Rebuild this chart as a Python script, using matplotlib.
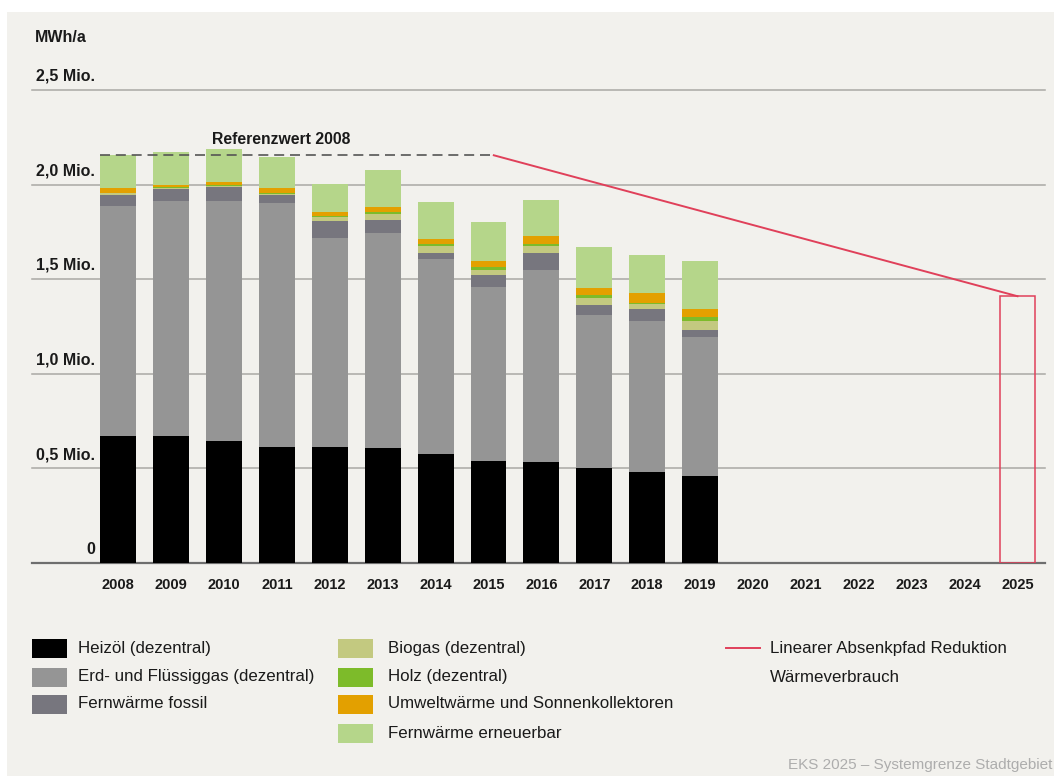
import numpy as np
import matplotlib
matplotlib.use("Agg")
import matplotlib.pyplot as plt
from matplotlib.patches import Rectangle
from matplotlib.lines import Line2D

plt.rcParams['font.family'] = ['Liberation Sans', 'DejaVu Sans']

# data in Mio. MWh/a
years = [str(y) for y in range(2008, 2026)]
heizoel = [0.671, 0.671, 0.646, 0.614, 0.614, 0.606, 0.576, 0.540, 0.534, 0.500, 0.479, 0.460]
gas = [1.214, 1.242, 1.266, 1.289, 1.104, 1.139, 1.031, 0.918, 1.017, 0.810, 0.801, 0.735]
fw_fossil = [0.061, 0.065, 0.075, 0.044, 0.088, 0.066, 0.032, 0.063, 0.090, 0.056, 0.060, 0.036]
biogas = [0.007, 0.005, 0.006, 0.005, 0.024, 0.034, 0.039, 0.030, 0.033, 0.035, 0.028, 0.047]
holz = [0.004, 0.002, 0.003, 0.004, 0.003, 0.010, 0.010, 0.014, 0.014, 0.014, 0.007, 0.023]
umwelt = [0.023, 0.011, 0.018, 0.028, 0.022, 0.027, 0.027, 0.032, 0.039, 0.036, 0.053, 0.044]
fw_erneuerbar = [0.175, 0.176, 0.176, 0.162, 0.150, 0.197, 0.193, 0.206, 0.190, 0.219, 0.202, 0.252]

referenz_2008 = 2.155
ziel_2025 = 1.41
pfad_start = 7.1  # x position where reduction path leaves the reference line

series = [heizoel, gas, fw_fossil, biogas, holz, umwelt, fw_erneuerbar]
names = ["Heizöl (dezentral)", "Erd- und Flüssiggas (dezentral)", "Fernwärme fossil",
         "Biogas (dezentral)", "Holz (dezentral)", "Umweltwärme und Sonnenkollektoren",
         "Fernwärme erneuerbar"]
colors = ["#000000", "#959595", "#77767e", "#c3c980", "#7dbb2a", "#e3a000", "#b5d68a"]
red = "#e0405a"
txt = "#1a1a1a"

W, H = 1054, 776
fig = plt.figure(figsize=(W / 100, H / 100), dpi=100)
fig.patch.set_facecolor("white")
fig.patches.append(Rectangle((7 / W, 0), 1, 1 - 12 / H, transform=fig.transFigure,
                             facecolor="#f2f1ed", edgecolor="none", zorder=-10))

ax = fig.add_axes([32 / W, 1 - 563 / H, (1045 - 32) / W, (563 - 90) / H])
ax.set_facecolor("none")
ax.set_xlim(-1.63, 17.52)
ax.set_ylim(0, 2.5)
for s in ax.spines.values():
    s.set_visible(False)

# grid + labels above lines
ylevels = [0, 0.5, 1.0, 1.5, 2.0, 2.5]
ylabels = ["0", "0,5 Mio.", "1,0 Mio.", "1,5 Mio.", "2,0 Mio.", "2,5 Mio."]
for v, lab in zip(ylevels, ylabels):
    if v == 0:
        ax.axhline(v, color="#6e6e6e", lw=1.6, zorder=1, clip_on=False)
    else:
        ax.axhline(v, color="#a9a8a4", lw=1.1, zorder=1, clip_on=False)
    ax.annotate(lab, xy=((95 - 32) / 1013, v), xycoords=ax.get_yaxis_transform(),
                xytext=(0, 4.5), textcoords="offset points", ha="right", va="bottom",
                fontsize=11.5, fontweight="bold", color=txt)
ax.set_yticks([])

x = np.arange(len(heizoel))
bottom = np.zeros(len(heizoel))
for vals, c in zip(series, colors):
    ax.bar(x, vals, bottom=bottom, width=0.68, color=c, edgecolor="none", zorder=2)
    bottom += np.array(vals)

# target bar 2025 (outline only)
ax.bar(len(years) - 1, ziel_2025, width=0.68, fill=False, edgecolor=red, lw=1.1, zorder=3)

# reference line and reduction path
ax.plot([-0.34, pfad_start], [referenz_2008, referenz_2008], color="#555555", lw=1.2,
        dashes=(6, 3.5), zorder=3)
ax.plot([pfad_start, len(years) - 1], [referenz_2008, ziel_2025], color=red, lw=1.4, zorder=3)
ax.text(1.78, referenz_2008 + 0.062, "Referenzwert 2008", fontsize=11.3, fontweight="bold",
        color=txt, va="baseline", ha="left")

ax.set_xticks(np.arange(len(years)))
ax.set_xticklabels(years, fontsize=10.5, fontweight="bold", color=txt)
ax.tick_params(axis="x", length=0, pad=11)

fig.text(35 / W, 1 - 38 / H, "MWh/a", fontsize=11.5, fontweight="bold", color=txt,
         va="center", ha="left")

# legend
rows_y = [648, 677, 704, 733]
col_pos = [(32, 78, [0, 1, 2]), (338, 388, [3, 4, 5, 6])]
for x0, xt, idxs in col_pos:
    for r, i in enumerate(idxs):
        yc = rows_y[r]
        fig.patches.append(Rectangle((x0 / W, 1 - (yc + 9.5) / H), 35 / W, 19 / H,
                                     transform=fig.transFigure, facecolor=colors[i],
                                     edgecolor="none"))
        fig.text(xt / W, 1 - yc / H, names[i], fontsize=12.2, color=txt,
                 va="center", ha="left")
fig.lines.append(Line2D([726 / W, 760 / W], [1 - 648 / H, 1 - 648 / H],
                        transform=fig.transFigure, color=red, lw=1.4))
fig.text(770 / W, 1 - 648 / H, "Linearer Absenkpfad Reduktion", fontsize=12.2,
         color=txt, va="center", ha="left")
fig.text(770 / W, 1 - 677 / H, "Wärmeverbrauch", fontsize=12.2, color=txt,
         va="center", ha="left")

fig.text(1052 / W, 1 - 765 / H, "EKS 2025 – Systemgrenze Stadtgebiet", fontsize=11,
         color="#adadad", va="center", ha="right")

fig.savefig("out.png", dpi=100)
